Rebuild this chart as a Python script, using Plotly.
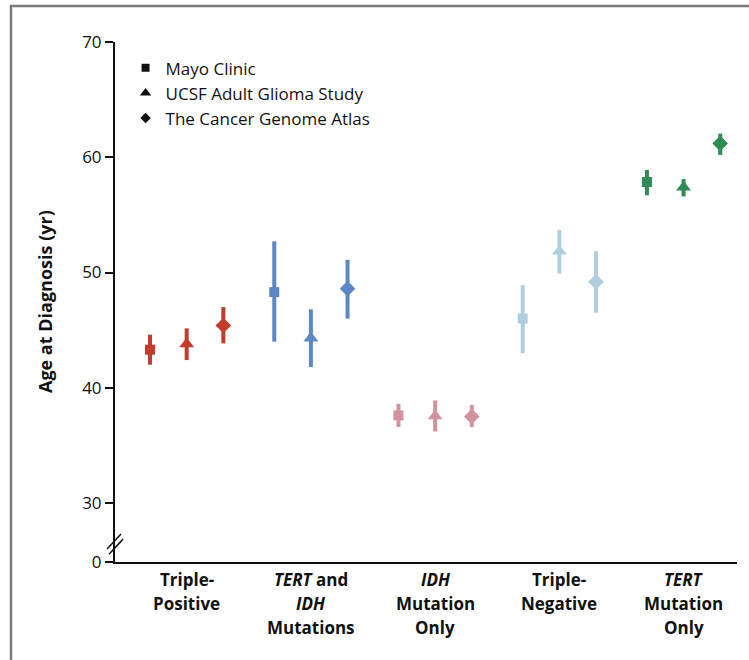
import plotly.graph_objects as go

# Grupos moleculares (eixo X)
grupos = [
    ["Triple-", "Positive"],
    ["<i>TERT</i> and", "<i>IDH</i>", "Mutations"],
    ["<i>IDH</i>", "Mutation", "Only"],
    ["Triple-", "Negative"],
    ["<i>TERT</i>", "Mutation", "Only"],
]
cores_grupo = ["#C23B2B", "#5B87C7", "#D4929E", "#AFCEDF", "#2F8C56"]

estudos = ["Mayo Clinic", "UCSF Adult Glioma Study", "The Cancer Genome Atlas"]

# Idade ao diagnóstico (média) e intervalo (inferior / superior)
mayo_idade = [43.3, 48.3, 37.6, 46.0, 57.85]
mayo_inf = [42.0, 44.0, 36.6, 43.0, 56.7]
mayo_sup = [44.6, 52.7, 38.6, 48.9, 58.9]

ucsf_idade = [43.8, 44.3, 37.55, 51.85, 57.4]
ucsf_inf = [42.4, 41.8, 36.2, 49.9, 56.6]
ucsf_sup = [45.15, 46.8, 38.9, 53.7, 58.1]

tcga_idade = [45.4, 48.6, 37.5, 49.2, 61.2]
tcga_inf = [43.85, 46.0, 36.6, 46.5, 60.2]
tcga_sup = [47.0, 51.1, 38.5, 51.85, 62.05]

# Eixo Y quebrado: "0" desenhado logo abaixo de 30
y_ticks = [30, 40, 50, 60, 70]
y_zero_falso = 24.88

series = [
    (mayo_idade, mayo_inf, mayo_sup, "square", 10),
    (ucsf_idade, ucsf_inf, ucsf_sup, "triangle-up", 13),
    (tcga_idade, tcga_inf, tcga_sup, "diamond", 12),
]
deslocamentos = [-0.295, 0.0, 0.295]

fig = go.Figure()

for (idade, inf, sup, simbolo, tam), dx in zip(series, deslocamentos):
    for i, cor in enumerate(cores_grupo):
        fig.add_trace(go.Scatter(
            x=[i + dx], y=[idade[i]],
            mode="markers",
            marker=dict(symbol=simbolo, size=tam, color=cor, line=dict(width=0)),
            error_y=dict(type="data", symmetric=False,
                         array=[sup[i] - idade[i]],
                         arrayminus=[idade[i] - inf[i]],
                         color=cor, thickness=4, width=0),
            showlegend=False, hoverinfo="y",
        ))

# Legenda com marcadores pretos
legenda_simbolos = [("square", 8), ("triangle-up", 10), ("diamond", 8)]
for nome, (simbolo, tam) in zip(estudos, legenda_simbolos):
    fig.add_trace(go.Scatter(
        x=[None], y=[None], mode="markers", name=nome,
        marker=dict(symbol=simbolo, size=tam, color="#111111"),
    ))

# Rótulos das categorias, linha a linha
anotacoes = []
for i, linhas in enumerate(grupos):
    for j, txt in enumerate(linhas):
        anotacoes.append(dict(
            x=i, y=0, xref="x", yref="paper", yanchor="middle",
            text=f"<b>{txt}</b>", showarrow=False, yshift=-17 - 24 * j,
            font=dict(size=17, color="#111111"),
        ))

anotacoes.append(dict(
    x=-0.1125, y=0.5, xref="paper", yref="paper", textangle=-90,
    xanchor="center", yanchor="middle",
    text="<b>Age at Diagnosis (yr)</b>", showarrow=False,
    font=dict(size=18, color="#111111"),
))

formas = [
    # moldura cinza
    dict(type="rect", xref="paper", yref="paper", x0=-0.1672, x1=1.06,
         y0=-0.3, y1=1.069, line=dict(color="#7A7A7A", width=2.5)),
    # quebra do eixo Y
    dict(type="line", xref="paper", yref="paper", x0=-0.0128, x1=0.0097,
         y0=0.025, y1=0.054, line=dict(color="#111111", width=1.5)),
    dict(type="line", xref="paper", yref="paper", x0=-0.0096, x1=0.0129,
         y0=0.015, y1=0.044, line=dict(color="#111111", width=1.5)),
]

fig.update_layout(
    width=749, height=660,
    margin=dict(l=115, r=12, t=42, b=98),
    plot_bgcolor="white", paper_bgcolor="white",
    font=dict(family="Open Sans, sans-serif", size=15, color="#111111"),
    legend=dict(x=0.017, y=0.984, xanchor="left", yanchor="top",
                bgcolor="rgba(0,0,0,0)", font=dict(size=17),
                tracegroupgap=0),
    annotations=anotacoes,
    shapes=formas,
)

fig.update_xaxes(
    range=[-0.577, 4.43], showline=True, linecolor="#111111", linewidth=2,
    showticklabels=False, ticks="", showgrid=False, zeroline=False,
)
fig.update_yaxes(
    range=[y_zero_falso, 70], showline=True, linecolor="#111111", linewidth=2,
    tickvals=[y_zero_falso] + y_ticks,
    ticktext=["0"] + [str(v) for v in y_ticks],
    ticks="outside", ticklen=8, tickwidth=1.5, tickcolor="#111111",
    tickfont=dict(size=17), showgrid=False, zeroline=False,
)

# remove a margem padrão do body para a figura ocupar a janela toda
fig.write_html("out.html", config={"displayModeBar": False},
               post_script="document.body.style.margin='0';")
